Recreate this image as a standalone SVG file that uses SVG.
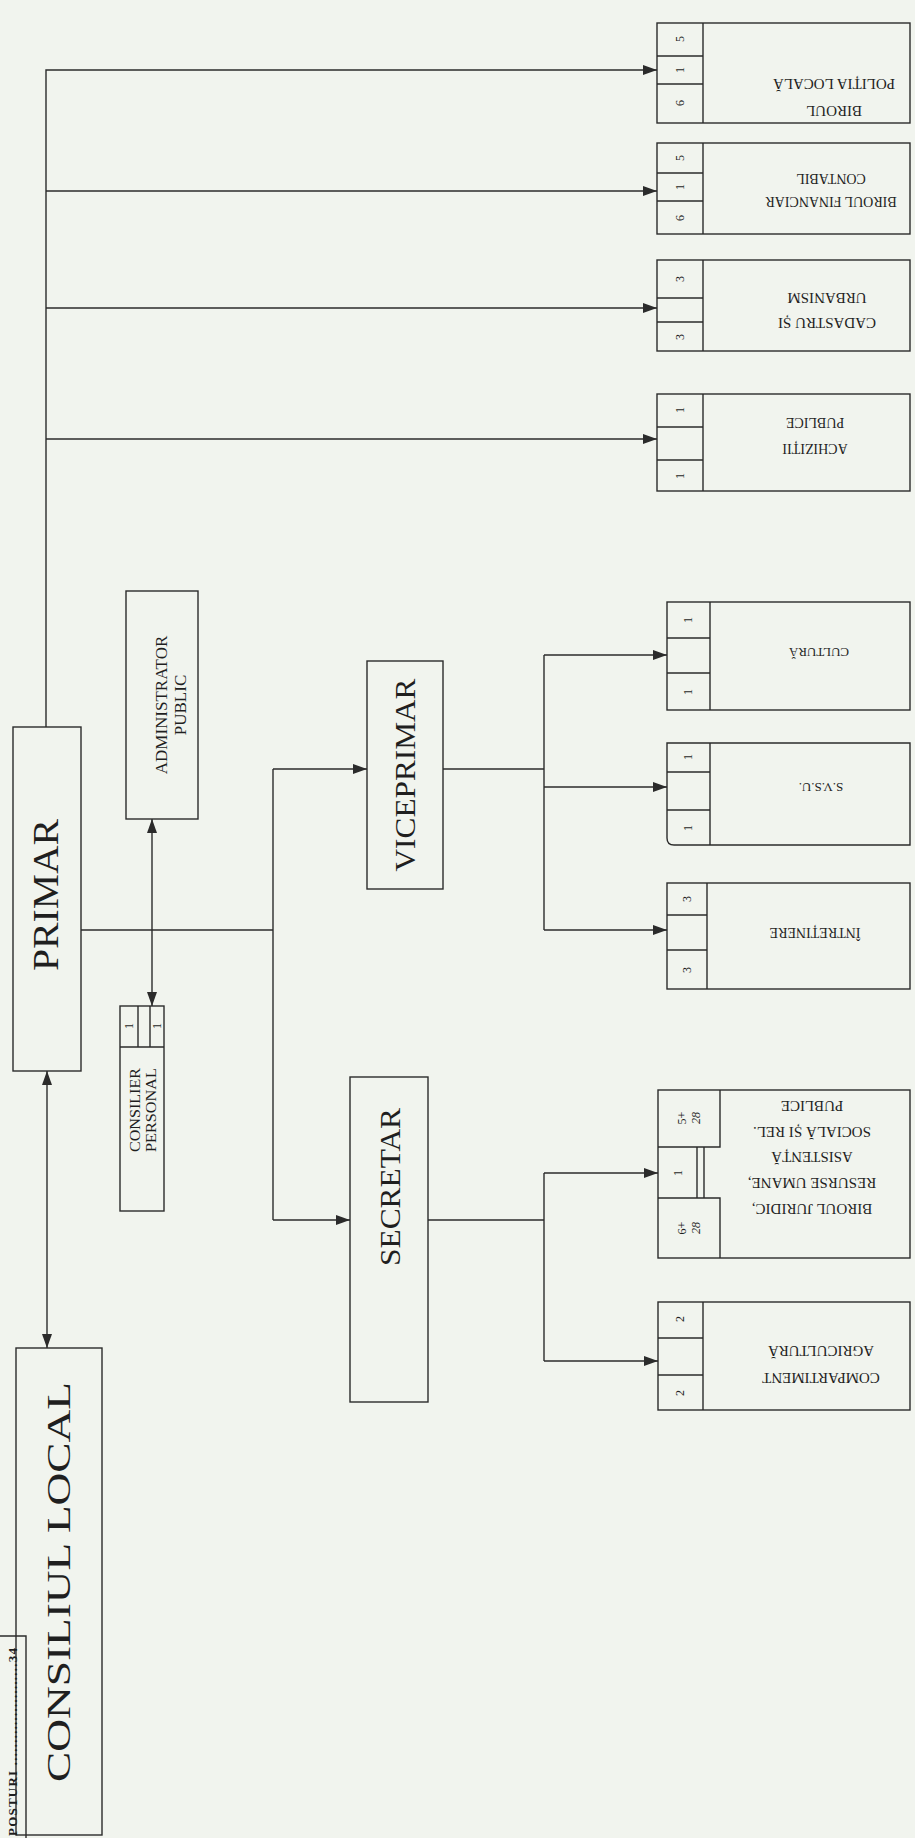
<svg xmlns="http://www.w3.org/2000/svg" width="915" height="1838" viewBox="0 0 915 1838">
<defs>
<marker id="ah" viewBox="0 0 14 10" refX="14" refY="5" markerWidth="14" markerHeight="10" markerUnits="userSpaceOnUse" orient="auto-start-reverse"><path d="M0,0 L14,5 L0,10 z" fill="#2b2b2b"/></marker>
<style>
.b{fill:none;stroke:#2b2b2b;stroke-width:1.4}
.c line,.c polyline{fill:none;stroke:#2b2b2b;stroke-width:1.4}
.a{marker-end:url(#ah)}
.d{marker-start:url(#ah);marker-end:url(#ah)}
text{font-family:"Liberation Serif","Times New Roman",serif;fill:#1f1f1f;dominant-baseline:central}
.n{font-size:12px;text-anchor:middle}
.m{text-anchor:middle}
</style>
</defs>
<rect width="915" height="1838" fill="#f1f4ee"/>

<g id="connectors" class="c">
<polyline class="a" points="46,727 46,70 657,70"/>
<line class="a" x1="46" y1="191" x2="657" y2="191"/>
<line class="a" x1="46" y1="308" x2="657" y2="308"/>
<line class="a" x1="46" y1="439" x2="657" y2="439"/>
<line class="d" x1="47" y1="1071" x2="47" y2="1348"/>
<line class="d" x1="152" y1="819" x2="152" y2="1006"/>
<line x1="81" y1="930" x2="273" y2="930"/>
<line x1="273" y1="769" x2="273" y2="1220"/>
<line class="a" x1="273" y1="769" x2="367" y2="769"/>
<line class="a" x1="273" y1="1220" x2="350" y2="1220"/>
<line x1="443" y1="769" x2="544" y2="769"/>
<line x1="544" y1="655" x2="544" y2="930"/>
<line class="a" x1="544" y1="655" x2="667" y2="655"/>
<line class="a" x1="544" y1="787" x2="667" y2="787"/>
<line class="a" x1="544" y1="930" x2="667" y2="930"/>
<line x1="428" y1="1220" x2="544" y2="1220"/>
<line x1="544" y1="1173" x2="544" y2="1361"/>
<line class="a" x1="544" y1="1173" x2="658" y2="1173"/>
<line class="a" x1="544" y1="1361" x2="658" y2="1361"/>
</g>

<g id="consiliul-local">
<rect class="b" x="16" y="1348" width="86" height="487"/>
<text transform="translate(59,1582) rotate(-90)" class="m" font-size="33" textLength="400" lengthAdjust="spacingAndGlyphs">CONSILIUL LOCAL</text>
</g>

<g id="primar">
<rect class="b" x="13" y="727" width="68" height="344"/>
<text transform="translate(46,895) rotate(-90)" class="m" font-size="36" textLength="152" lengthAdjust="spacingAndGlyphs">PRIMAR</text>
</g>

<g id="administrator-public">
<rect class="b" x="126" y="591" width="72" height="228"/>
<text transform="translate(161,705) rotate(-90)" class="m" font-size="17">ADMINISTRATOR</text>
<text transform="translate(180,705) rotate(-90)" class="m" font-size="17">PUBLIC</text>
</g>

<g id="consilier-personal">
<rect class="b" x="120" y="1006" width="44" height="205"/>
<path class="b" d="M120,1047 H164 M138,1006 V1047 M150,1006 V1047"/>
<text class="n" transform="translate(129,1026) rotate(-90)">1</text>
<text class="n" transform="translate(157,1026) rotate(-90)">1</text>
<text transform="translate(135,1110) rotate(-90)" class="m" font-size="14" textLength="84" lengthAdjust="spacingAndGlyphs">CONSILIER</text>
<text transform="translate(151,1110) rotate(-90)" class="m" font-size="14" textLength="84" lengthAdjust="spacingAndGlyphs">PERSONAL</text>
</g>

<g id="viceprimar">
<rect class="b" x="367" y="661" width="76" height="228"/>
<text transform="translate(404,775) rotate(-90)" class="m" font-size="30" textLength="193" lengthAdjust="spacingAndGlyphs">VICEPRIMAR</text>
</g>

<g id="secretar">
<rect class="b" x="350" y="1077" width="78" height="325"/>
<text transform="translate(389,1187) rotate(-90)" class="m" font-size="30" textLength="158" lengthAdjust="spacingAndGlyphs">SECRETAR</text>
</g>

<g id="biroul-politia-locala">
<rect class="b" x="657" y="23" width="253" height="100"/>
<path class="b" d="M703,23 V123 M657,56 H703 M657,84 H703"/>
<text class="n" transform="translate(680,39) rotate(-90)">5</text>
<text class="n" transform="translate(680,70) rotate(-90)">1</text>
<text class="n" transform="translate(680,103) rotate(-90)">6</text>
<text class="m" font-size="15" transform="translate(834,84) rotate(180)">POLIȚIA  LOCALĂ</text>
<text class="m" font-size="15" transform="translate(834,111) rotate(180)">BIROUL</text>
</g>

<g id="biroul-financiar-contabil">
<rect class="b" x="657" y="143" width="253" height="91"/>
<path class="b" d="M703,143 V234 M657,173 H703 M657,201 H703"/>
<text class="n" transform="translate(680,158) rotate(-90)">5</text>
<text class="n" transform="translate(680,187) rotate(-90)">1</text>
<text class="n" transform="translate(680,218) rotate(-90)">6</text>
<text class="m" font-size="14" transform="translate(831,178) rotate(180)">CONTABIL</text>
<text class="m" font-size="14" transform="translate(831,201) rotate(180)">BIROUL FINANCIAR</text>
</g>

<g id="cadastru-urbanism">
<rect class="b" x="657" y="260" width="253" height="91"/>
<path class="b" d="M703,260 V351 M657,298 H703 M657,322 H703"/>
<text class="n" transform="translate(680,279) rotate(-90)">3</text>
<text class="n" transform="translate(680,337) rotate(-90)">3</text>
<text class="m" font-size="15" transform="translate(827,298) rotate(180)">URBANISM</text>
<text class="m" font-size="15" transform="translate(827,323) rotate(180)">CADASTRU ȘI</text>
</g>

<g id="achizitii-publice">
<rect class="b" x="657" y="394" width="253" height="97"/>
<path class="b" d="M703,394 V491 M657,427 H703 M657,460 H703"/>
<text class="n" transform="translate(680,410) rotate(-90)">1</text>
<text class="n" transform="translate(680,476) rotate(-90)">1</text>
<text class="m" font-size="14" transform="translate(815,422) rotate(180)">PUBLICE</text>
<text class="m" font-size="14" transform="translate(815,448) rotate(180)">ACHIZIȚII</text>
</g>

<g id="cultura">
<rect class="b" x="667" y="602" width="243" height="108"/>
<path class="b" d="M710,602 V710 M667,638 H710 M667,673 H710"/>
<text class="n" transform="translate(688,620) rotate(-90)">1</text>
<text class="n" transform="translate(688,692) rotate(-90)">1</text>
<text class="m" font-size="13" transform="translate(819,652) rotate(180)">CULTURĂ</text>
</g>

<g id="svsu">
<path class="b" d="M667,743 H910 V845 H674 Q667,845 667,838 Z"/>
<path class="b" d="M710,743 V845 M667,772 H710 M667,810 H710"/>
<text class="n" transform="translate(688,757) rotate(-90)">1</text>
<text class="n" transform="translate(688,828) rotate(-90)">1</text>
<text class="m" font-size="13" transform="translate(821,787) rotate(180)">S.V.S.U.</text>
</g>

<g id="intretinere">
<rect class="b" x="667" y="883" width="243" height="106"/>
<path class="b" d="M707,883 V989 M667,915 H707 M667,950 H707"/>
<text class="n" transform="translate(687,899) rotate(-90)">3</text>
<text class="n" transform="translate(687,970) rotate(-90)">3</text>
<text class="m" font-size="14" transform="translate(815,932) rotate(180)">ÎNTREȚINERE</text>
</g>

<g id="biroul-juridic">
<rect class="b" x="658" y="1090" width="252" height="168"/>
<path class="b" d="M720,1090 V1147 H658 M697,1147 V1198 M704,1147 V1198 M658,1198 H720 V1258"/>
<text class="n" transform="translate(689,1118) rotate(-90)"><tspan x="0" dy="-7">5+</tspan><tspan x="0" dy="14" font-style="italic">28</tspan></text>
<text class="n" transform="translate(678,1173) rotate(-90)">1</text>
<text class="n" transform="translate(689,1228) rotate(-90)"><tspan x="0" dy="-7">6+</tspan><tspan x="0" dy="14" font-style="italic">28</tspan></text>
<text class="m" font-size="15" transform="translate(812,1106) rotate(180)">PUBLICE</text>
<text class="m" font-size="15" transform="translate(812,1132) rotate(180)">SOCIALĂ ȘI REL.</text>
<text class="m" font-size="15" transform="translate(812,1157) rotate(180)">ASISTENȚĂ</text>
<text class="m" font-size="15" transform="translate(812,1183) rotate(180)">RESURSE UMANE,</text>
<text class="m" font-size="15" transform="translate(812,1209) rotate(180)">BIROUL JURIDIC,</text>
</g>

<g id="compartiment-agricultura">
<rect class="b" x="658" y="1302" width="252" height="108"/>
<path class="b" d="M703,1302 V1410 M658,1338 H703 M658,1375 H703"/>
<text class="n" transform="translate(680,1319) rotate(-90)">2</text>
<text class="n" transform="translate(680,1393) rotate(-90)">2</text>
<text class="m" font-size="15" transform="translate(821,1351) rotate(180)">AGRICULTURĂ</text>
<text class="m" font-size="15" transform="translate(821,1378) rotate(180)">COMPARTIMENT</text>
</g>

<g id="posturi">
<path class="b" d="M0,1636 H26 V1838"/>
<text transform="translate(12,1836) rotate(-90)" font-size="13" font-weight="bold" textLength="188" lengthAdjust="spacing">POSTURI .......................34</text>
</g>
</svg>
